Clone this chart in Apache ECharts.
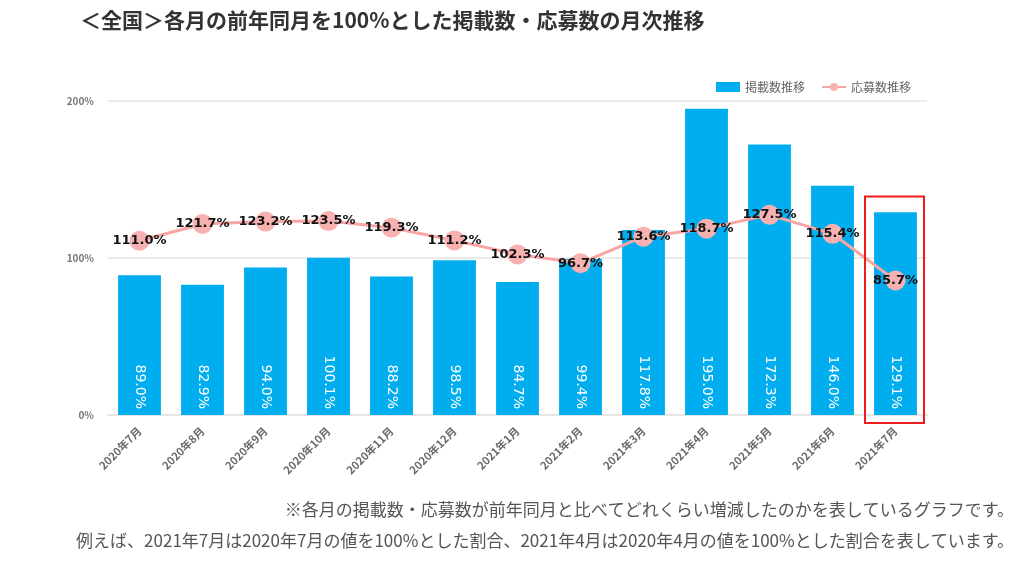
<!DOCTYPE html>
<html><head><meta charset="utf-8">
<script src="https://cdn.jsdelivr.net/npm/echarts@6/dist/echarts.min.js"></script>
<style>html,body{margin:0;padding:0;background:#fff;}#c{width:1024px;height:567px;}</style>
</head><body><div id="c"></div>
<script>
const categories = ['2020年7月','2020年8月','2020年9月','2020年10月','2020年11月','2020年12月','2021年1月','2021年2月','2021年3月','2021年4月','2021年5月','2021年6月','2021年7月'];
const listings = [89.0, 82.9, 94.0, 100.1, 88.2, 98.5, 84.7, 99.4, 117.8, 195.0, 172.3, 146.0, 129.1];
const applications = [111.0, 121.7, 123.2, 123.5, 119.3, 111.2, 102.3, 96.7, 113.6, 118.7, 127.5, 115.4, 85.7];
const yTicks = [0, 100, 200];
const titleText = '＜全国＞各月の前年同月を100%とした掲載数・応募数の月次推移';
const note1 = '※各月の掲載数・応募数が前年同月と比べてどれくらい増減したのかを表しているグラフです。';
const note2 = '例えば、2021年7月は2020年7月の値を100%とした割合、2021年4月は2020年4月の値を100%とした割合を表しています。';

const FONT = '"Noto Sans CJK JP", "Noto Sans", sans-serif';
const chart = echarts.init(document.getElementById('c'));
const option = {
  backgroundColor: '#fff',
  textStyle: {fontFamily: FONT},
  title: {
    text: titleText, left: 75, top: 5,
    textStyle: {fontSize: 21, fontWeight: 'bold', color: '#333', fontFamily: FONT}
  },
  legend: {
    right: 108, top: 76, itemGap: 16, itemWidth: 24, itemHeight: 10,
    textStyle: {fontSize: 12, color: '#666', fontFamily: FONT},
    data: [{name: '掲載数推移', icon: 'rect'}, {name: '応募数推移'}]
  },
  grid: {left: 108, right: 97, top: 101, bottom: 152, containLabel: false},
  xAxis: {
    type: 'category', data: categories,
    axisLine: {lineStyle: {color: '#e6e6e6', width: 2}},
    axisTick: {show: false},
    axisLabel: {rotate: 45, fontSize: 11, fontWeight: 'bold', color: '#6a6a6a', margin: 14, interval: 0}
  },
  yAxis: {
    type: 'value', min: yTicks[0], max: yTicks[yTicks.length - 1], interval: 100,
    axisLine: {show: false}, axisTick: {show: false},
    splitLine: {lineStyle: {color: '#ebebeb', width: 2}},
    axisLabel: {formatter: '{value}%', fontSize: 10, fontWeight: 'bold', color: '#777', margin: 14}
  },
  series: [
    {
      name: '掲載数推移', type: 'bar', data: listings, barWidth: '68%',
      itemStyle: {color: '#00aeef'},
      label: {
        show: true, position: 'insideBottom', rotate: -90, align: 'right', verticalAlign: 'middle',
        distance: 6, color: '#fff', fontSize: 14, fontFamily: 'Verdana, "DejaVu Sans", sans-serif',
        formatter: p => p.value.toFixed(1) + '%'
      }
    },
    {
      name: '応募数推移', type: 'line', data: applications,
      symbol: 'circle', symbolSize: 20,
      lineStyle: {color: '#f7a5a5', width: 3},
      itemStyle: {color: '#f8b1b1'},
      label: {
        show: true, position: 'inside', color: '#111', fontSize: 13, fontWeight: 'bold',
        fontFamily: 'Verdana, "DejaVu Sans", sans-serif',
        formatter: p => p.value.toFixed(1) + '%'
      },
      z: 5
    }
  ]
};
chart.setOption(option);
// red highlight box around the last category, computed from the axis scale
const last = categories.length - 1;
const pTop = chart.convertToPixel({seriesIndex: 0}, [last, listings[last] + 10]);
const pBot = chart.convertToPixel({seriesIndex: 0}, [last, 0]);
const halfW = 29.5;
chart.setOption({graphic: [
  {type: 'text', right: 10, top: 501, style: {text: note1, fill: '#555', font: '17px ' + FONT}},
  {type: 'text', right: 10, top: 532, style: {text: note2, fill: '#555', font: '17px ' + FONT}},
  {type: 'rect', shape: {x: pTop[0] - halfW - 1, y: pTop[1], width: halfW * 2, height: pBot[1] - pTop[1] + 8},
   style: {fill: 'none', stroke: '#ee1c1c', lineWidth: 2}, z: 10}
]});
</script></body></html>
